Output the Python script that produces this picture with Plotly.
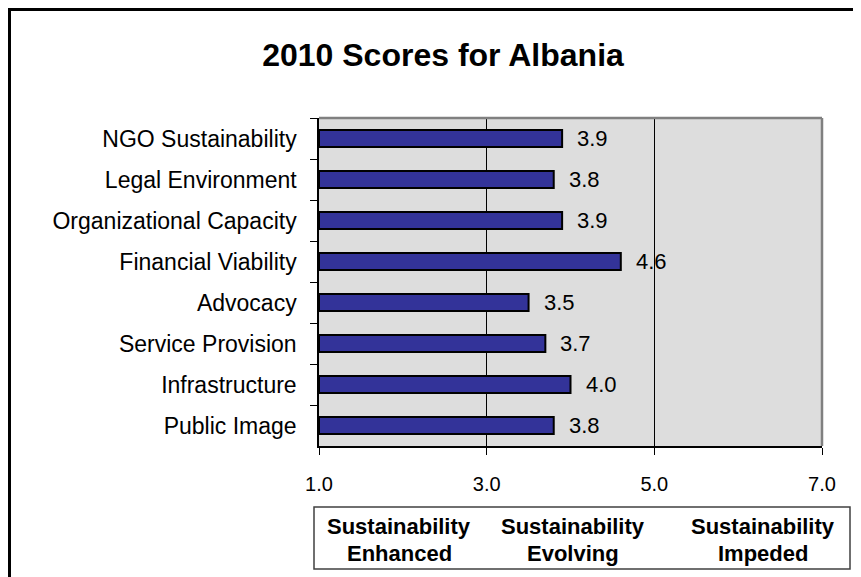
import plotly.graph_objects as go

categories = ["NGO Sustainability", "Legal Environment", "Organizational Capacity",
              "Financial Viability", "Advocacy", "Service Provision",
              "Infrastructure", "Public Image"]
scores = [3.9, 3.8, 3.9, 4.6, 3.5, 3.7, 4.0, 3.8]
x_ticks = [1, 3, 5, 7]
scale_min, scale_max = 1, 7
box_labels = ["Sustainability<br>Enhanced", "Sustainability<br>Evolving", "Sustainability<br>Impeded"]
title_text = "2010 Scores for Albania"

# page body has an 8px margin; work in window pixel coordinates and shift
OFF = 8
WIN_W, WIN_H = 861, 577
W, H = WIN_W - OFF, WIN_H - OFF
PL, PR, PT, PB = 319, 822, 118, 446          # plot area in window pixels
L, T = PL - OFF, PT - OFF
R, B = W - (PR - OFF), H - (PB - OFF)
PW, PH = PR - PL, PB - PT
FONT = "Arial, Liberation Sans, sans-serif"


def px(xw):
    return (xw - PL) / PW


def py(yw):
    return (PB - yw) / PH


fig = go.Figure()
fig.add_trace(go.Bar(
    y=categories,
    x=[s - scale_min for s in scores],
    base=scale_min,
    orientation="h",
    width=0.42,
    marker=dict(color="#333399", line=dict(color="black", width=2)),
    hoverinfo="skip",
))

annotations = []
for c, s in zip(categories, scores):
    annotations.append(dict(x=s, y=c, xref="x", yref="y", text=f"{s:.1f}",
                            showarrow=False, xanchor="left", yanchor="middle",
                            xshift=13, font=dict(family=FONT, size=22, color="black")))

box_centers = [399, 573, 763]
line_ys = [526, 553]
for cx, lab in zip(box_centers, box_labels):
    for ly, part in zip(line_ys, lab.split("<br>")):
        annotations.append(dict(x=px(cx), y=py(ly), xref="paper", yref="paper", text=f"<b>{part}</b>",
                                showarrow=False, xanchor="center", yanchor="middle",
                                font=dict(family=FONT, size=22, color="black")))

shapes = [
    # outer frame
    dict(type="rect", xref="paper", yref="paper", x0=px(9.5), x1=px(900), y0=py(620), y1=py(9.5),
         line=dict(color="black", width=3), fillcolor="rgba(0,0,0,0)", layer="above"),
    # plot border top/right
    dict(type="line", xref="paper", yref="paper", x0=0, x1=1, y0=1, y1=1,
         line=dict(color="#808080", width=2.5), layer="above"),
    dict(type="line", xref="paper", yref="paper", x0=1, x1=1, y0=0, y1=1,
         line=dict(color="#808080", width=2.5), layer="above"),
    # legend box
    dict(type="rect", xref="paper", yref="paper", x0=px(314), x1=px(850), y0=py(569), y1=py(507),
         line=dict(color="#404040", width=1.5), fillcolor="white", layer="below"),
]

fig.update_layout(
    width=W, height=H,
    margin=dict(l=L, r=R, t=T, b=B, pad=0),
    paper_bgcolor="white",
    plot_bgcolor="#DDDDDD",
    showlegend=False,
    title=dict(text=f"<b>{title_text}</b>", x=(443 - OFF) / W, xanchor="center",
               y=1 - (55 - OFF) / H, yanchor="middle",
               font=dict(family=FONT, size=32, color="black")),
    xaxis=dict(range=[scale_min, scale_max], tickvals=x_ticks,
               ticktext=[f"{v:.1f}" for v in x_ticks],
               showgrid=True, gridcolor="black", gridwidth=1,
               zeroline=False, showline=True, linecolor="black", linewidth=1.5,
               ticks="outside", ticklen=7, tickcolor="black", tickwidth=1,
               ticklabelstandoff=12,
               tickfont=dict(family=FONT, size=20, color="black"), fixedrange=True),
    yaxis=dict(autorange="reversed", showgrid=False, zeroline=False,
               showline=True, linecolor="black", linewidth=1.5,
               ticks="outside", ticklen=7, tickcolor="black", tickwidth=1,
               tickson="boundaries", ticklabelstandoff=16,
               tickfont=dict(family=FONT, size=23, color="black"), fixedrange=True),
    annotations=annotations,
    shapes=shapes,
    bargap=0.58,
)

fig.write_html("out.html")
